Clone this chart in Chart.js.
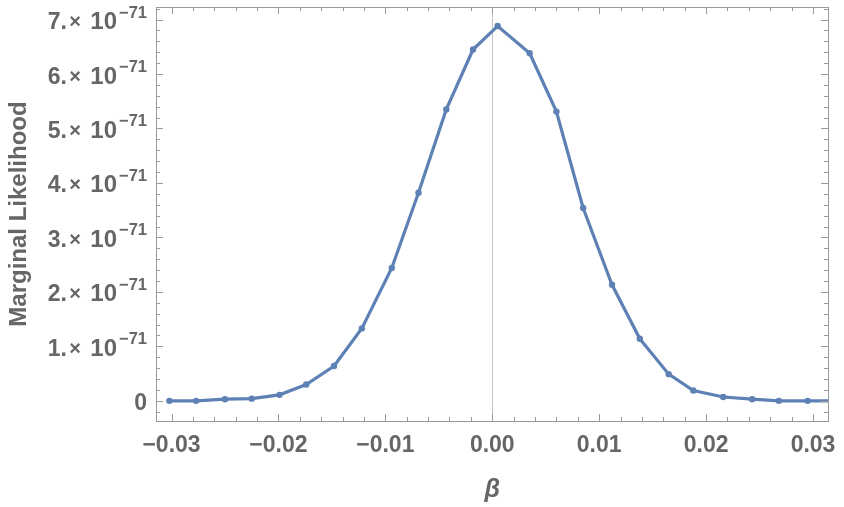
<!DOCTYPE html>
<html><head><meta charset="utf-8">
<script src="https://cdn.jsdelivr.net/npm/chart.js@4/dist/chart.umd.min.js"></script>
<style>html,body{margin:0;padding:0;background:#fff}#wrap{width:844px;height:507px;position:relative}</style>
</head><body><div id="wrap"><canvas id="c"></canvas></div>
<script>
/* Marginal Likelihood vs beta — Mathematica-Look, Werte in Einheiten von 1e-71 */
const beta=[-0.0302,-0.0277,-0.0250,-0.0225,-0.0199,-0.0174,-0.0148,-0.0122,-0.0094,-0.0069,-0.0043,-0.0018,
  0.0005,0.0035,0.0060,0.0085,0.0112,0.0138,0.0165,0.0188,0.0216,0.0243,0.0268,0.0295,0.0322];
const likel=[0.00,0.00,0.03,0.04,0.11,0.30,0.64,1.33,2.44,3.82,5.35,6.45,
  6.88,6.38,5.31,3.54,2.13,1.14,0.49,0.19,0.07,0.03,0.00,0.00,0.00];
const yExp='\u221271';
const xTicks=[-0.03,-0.02,-0.01,0,0.01,0.02,0.03];
const xLabels=['\u22120.03','\u22120.02','\u22120.01','0.00','0.01','0.02','0.03'];
const yTicks=[0,1,2,3,4,5,6,7];
const yLabels=['0','1.','2.','3.','4.','5.','6.','7.'];
const xTitle='\u03b2',yTitle='Marginal Likelihood';

const C={line:'#5e81b5',frame:'#9a9a9a',txt:'#666666',zero:'#c4c4c4'};
const F='"Liberation Sans", Arial, sans-serif';

const framePlug={id:'frame',
  beforeDatasetsDraw(ch){ // Nulllinie hinter der Kurve
    const {ctx,chartArea:a,scales:{x}}=ch;const px=Math.round(x.getPixelForValue(0))+.5;
    ctx.save();ctx.strokeStyle=C.zero;ctx.lineWidth=1;ctx.beginPath();ctx.moveTo(px,a.top);ctx.lineTo(px,a.bottom);ctx.stroke();ctx.restore();
  },
  afterDraw(ch){
    const {ctx,chartArea:a,scales:{x,y}}=ch;
    ctx.save();ctx.strokeStyle=C.frame;ctx.lineWidth=1;
    ctx.strokeRect(Math.round(a.left)+.5,Math.round(a.top)+.5,Math.round(a.right-a.left),Math.round(a.bottom-a.top));
    const tk=(p,len,vert)=>{ctx.beginPath();
      if(vert){ctx.moveTo(p,a.bottom);ctx.lineTo(p,a.bottom-len);ctx.moveTo(p,a.top);ctx.lineTo(p,a.top+len);}
      else{ctx.moveTo(a.left,p);ctx.lineTo(a.left+len,p);ctx.moveTo(a.right,p);ctx.lineTo(a.right-len,p);}
      ctx.stroke();};
    for(let i=-16;i<=16;i++){const v=i*0.002;if(v<x.min||v>x.max)continue;
      tk(Math.round(x.getPixelForValue(v))+.5,i%5===0?7:4,true);}
    for(let i=-1;i<=36;i++){const v=i*0.2;if(v<y.min||v>y.max)continue;
      tk(Math.round(y.getPixelForValue(v))+.5,i%5===0?7:4,false);}
    // x-Beschriftung
    ctx.fillStyle=C.txt;ctx.font='bold 23px '+F;ctx.textAlign='center';ctx.textBaseline='middle';
    xTicks.forEach((v,i)=>ctx.fillText(xLabels[i],x.getPixelForValue(v),446));
    ctx.font='italic bold 25px '+F;ctx.fillText(xTitle,x.getPixelForValue(0),490);
    // y-Beschriftung: Mantisse  ×  10 ^ Exponent, rechtsbündig an R
    const R=147;ctx.textBaseline='alphabetic';
    yTicks.forEach((v,i)=>{const py=y.getPixelForValue(v)+9.5;
      ctx.textAlign='right';
      if(v===0){ctx.font='bold 23px '+F;ctx.fillText('0',R,py);return;}
      ctx.font='bold 16.5px '+F;ctx.fillText(yExp,R,py-11.5);
      ctx.font='bold 24px '+F;ctx.fillText('10',R-30,py);
      ctx.textAlign='center';ctx.font='bold 20px '+F;ctx.fillText('\u00d7',R-72,py-1);
      ctx.textAlign='right';ctx.font='bold 23px '+F;ctx.fillText(yLabels[i],R-80,py);});
    ctx.translate(19,(a.top+a.bottom)/2);ctx.rotate(-Math.PI/2);ctx.textAlign='center';ctx.textBaseline='middle';
    ctx.font='bold 24px '+F;ctx.fillText(yTitle,0,0);
    ctx.restore();
  }};

new Chart(document.getElementById('c'),{type:'line',
  data:{datasets:[{data:beta.map((b,i)=>({x:b,y:likel[i]})),borderColor:C.line,backgroundColor:C.line,
    borderWidth:3.2,pointRadius:3.2,pointHoverRadius:3.2,pointBackgroundColor:C.line,pointBorderWidth:0,tension:0,fill:false}]},
  options:{responsive:true,maintainAspectRatio:false,animation:false,
    layout:{padding:{left:156,right:16,top:7,bottom:86}},
    plugins:{legend:{display:false},tooltip:{enabled:false}},
    scales:{x:{type:'linear',min:-0.03145,max:0.0314,display:false},
      y:{type:'linear',min:-0.37,max:7.23,display:false}}},
  plugins:[framePlug]});
</script></body></html>
